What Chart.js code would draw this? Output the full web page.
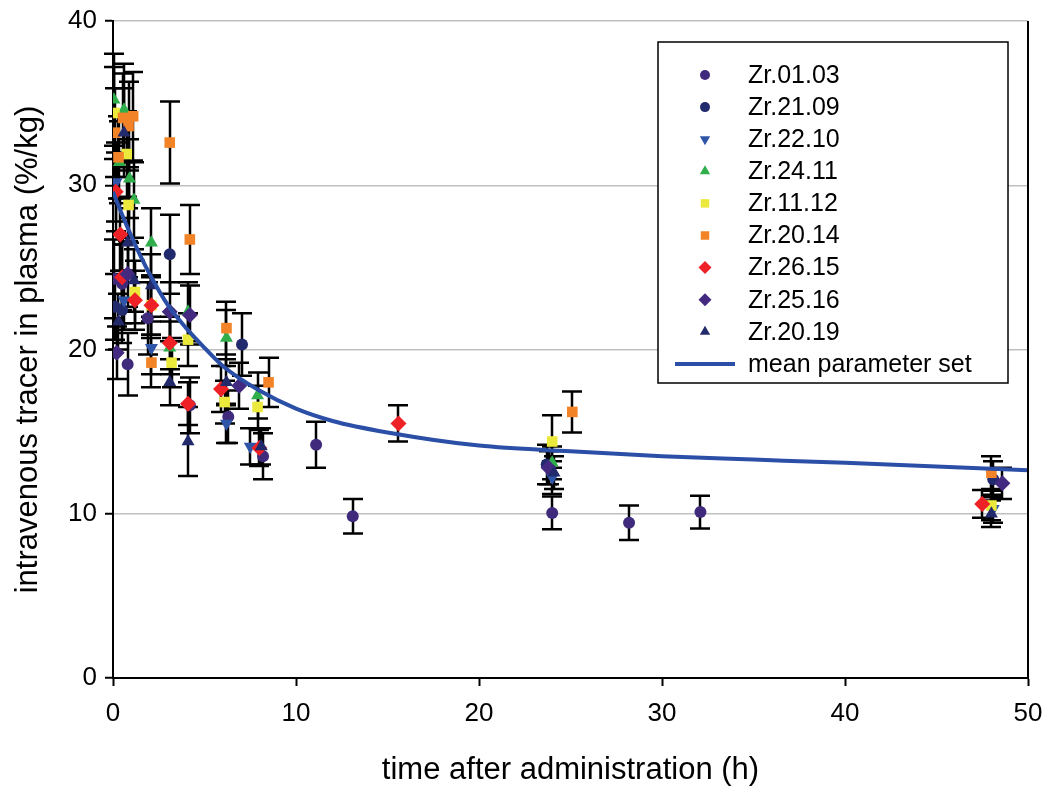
<!DOCTYPE html>
<html>
<head>
<meta charset="utf-8">
<script src="https://cdn.jsdelivr.net/npm/chart.js@4/dist/chart.umd.min.js"></script>
<style>
  html, body { margin: 0; padding: 0; background: #ffffff; }
  #wrap { position: relative; width: 1048px; height: 799px; }
</style>
</head>
<body>
<div id="wrap"><canvas id="c" width="1048" height="799"></canvas></div>
<script>
// ---- data ----
const seriesNames = ["Zr.01.03","Zr.21.09","Zr.22.10","Zr.24.11","Zr.11.12","Zr.20.14","Zr.26.15","Zr.25.16","Zr.20.19"];

const t_0103 = [0.08, 0.5, 0.8, 1.9, 4.2, 6.3, 8.2, 11.1, 13.1, 24.0, 28.2, 32.1];
const v_0103 = [24.3, 24.0, 19.1, 21.9, 16.6, 15.9, 13.5, 14.2, 9.85, 10.05, 9.45, 10.1];
const e_0103 = [2.4, 2.4, 1.9, 2.2, 1.7, 1.6, 1.4, 1.4, 1.05, 1.0, 1.05, 1.0];

const t_2109 = [0.1, 0.5, 3.1, 7.05, 23.7, 48.1];
const v_2109 = [22.6, 22.4, 25.8, 20.3, 13.0, 12.1];
const e_2109 = [2.0, 2.0, 2.4, 1.9, 1.2, 1.1];

const t_2210 = [0.17, 0.6, 2.1, 6.2, 7.5, 24.0, 48.1];
const v_2210 = [30.2, 23.0, 20.1, 15.5, 14.1, 12.2, 10.3];
const e_2210 = [2.4, 1.8, 1.6, 1.2, 1.1, 1.0, 0.85];

const t_2411 = [0.05, 0.35, 0.6, 0.9, 1.15, 2.1, 3.1, 4.1, 6.2, 7.9, 24.0];
const v_2411 = [35.2, 31.4, 34.6, 30.4, 29.1, 26.5, 20.1, 22.3, 20.7, 17.2, 13.1];
const e_2411 = [2.8, 2.5, 2.8, 2.4, 2.3, 2.1, 1.6, 1.8, 1.7, 1.4, 1.0];

const t_1112 = [0.08, 0.75, 0.85, 1.2, 2.1, 3.2, 4.1, 6.1, 7.9, 24.0, 48.0];
const v_1112 = [34.4, 31.9, 28.8, 23.5, 22.7, 19.2, 20.6, 16.8, 16.5, 14.4, 10.5];
const e_1112 = [2.8, 2.6, 2.3, 1.9, 1.8, 1.5, 1.6, 1.3, 1.3, 1.6, 0.9];

const t_2014 = [0.1, 0.3, 0.55, 0.85, 1.1, 2.1, 3.1, 4.2, 6.2, 8.5, 25.1, 48.0];
const v_2014 = [33.2, 31.7, 34.1, 33.6, 34.2, 19.2, 32.6, 26.7, 21.3, 18.0, 16.2, 12.5];
const e_2014 = [2.7, 2.5, 2.7, 2.7, 2.7, 1.5, 2.5, 2.1, 1.6, 1.5, 1.25, 1.0];

const t_2615 = [0.15, 0.4, 0.5, 1.2, 2.1, 3.1, 4.1, 5.9, 8.0, 15.6, 47.5];
const v_2615 = [29.6, 27.0, 24.4, 23.0, 22.7, 20.4, 16.7, 17.6, 14.0, 15.5, 10.6];
const e_2615 = [2.4, 2.2, 2.0, 1.8, 1.8, 1.6, 1.3, 1.4, 1.1, 1.1, 0.85];

const t_2516 = [0.2, 0.8, 3.1, 4.2, 6.9, 23.8, 48.6];
const v_2516 = [19.8, 24.6, 22.3, 22.1, 17.8, 12.8, 11.85];
const e_2516 = [1.6, 2.0, 1.8, 1.8, 1.4, 1.0, 0.95];

const t_2019 = [0.3, 0.6, 0.8, 1.15, 2.1, 3.1, 4.1, 6.2, 8.1, 24.1, 48.0];
const v_2019 = [21.7, 33.2, 26.5, 24.2, 23.9, 18.0, 14.4, 18.0, 14.1, 12.5, 10.0];
const e_2019 = [1.7, 2.7, 2.1, 1.9, 1.9, 1.4, 2.1, 1.4, 1.1, 1.0, 0.8];

// mean parameter set curve
const t_mean = [0, 0.5, 1, 1.5, 2, 3, 4, 5, 6, 8, 10, 12, 15, 20, 25, 30, 35, 40, 45, 50];
const v_mean = [29.6, 28.2, 26.9, 25.7, 24.6, 22.7, 21.3, 20.1, 19.0, 17.5, 16.4, 15.65, 14.95, 14.15, 13.8, 13.5, 13.3, 13.1, 12.88, 12.65];

const xTicks = [0, 10, 20, 30, 40, 50];
const yTicks = [0, 10, 20, 30, 40];

// ---- styles ----
const seriesT = [t_0103, t_2109, t_2210, t_2411, t_1112, t_2014, t_2615, t_2516, t_2019];
const seriesV = [v_0103, v_2109, v_2210, v_2411, v_1112, v_2014, v_2615, v_2516, v_2019];
const seriesE = [e_0103, e_2109, e_2210, e_2411, e_1112, e_2014, e_2615, e_2516, e_2019];
const colors  = ["#3f2a7c", "#222a6e", "#2f55a8", "#2fae4b", "#ece93d", "#f28327", "#ee2226", "#432a80", "#232a6c"];
const shapes  = ["circle", "circle", "triangle", "triangle", "rect", "rect", "rectRot", "rectRot", "triangle"];
const rots    = [0, 0, 180, 0, 0, 0, 0, 0, 0];
const radii   = [6, 6, 7.5, 7.5, 7.5, 7.5, 8, 8, 7.5];

const datasets = seriesNames.map((name, i) => ({
  label: name,
  data: seriesT[i].map((t, k) => ({ x: t, y: seriesV[i][k] })),
  errors: seriesE[i],
  showLine: false,
  pointStyle: shapes[i],
  rotation: rots[i],
  pointRadius: radii[i],
  pointHoverRadius: radii[i],
  backgroundColor: colors[i],
  borderColor: colors[i],
  borderWidth: 0,
  order: 8 - i
}));

datasets.push({
  label: "mean parameter set",
  data: t_mean.map((t, k) => ({ x: t, y: v_mean[k] })),
  showLine: true,
  cubicInterpolationMode: "monotone",
  borderColor: "#2b4ea6",
  backgroundColor: "#2b4ea6",
  borderWidth: 4,
  pointRadius: 0,
  pointHoverRadius: 0,
  order: -1
});

// error bars drawn from the library's own scales
const errorBars = {
  id: "errorBars",
  beforeDatasetsDraw(chart) {
    const ctx = chart.ctx;
    const ys = chart.scales.y;
    ctx.save();
    ctx.strokeStyle = "#000";
    ctx.lineWidth = 2.5;
    chart.data.datasets.forEach((ds, di) => {
      if (!ds.errors) return;
      const meta = chart.getDatasetMeta(di);
      meta.data.forEach((pt, k) => {
        const v = ds.data[k].y, e = ds.errors[k];
        const x = Math.round(pt.x);
        const y1 = ys.getPixelForValue(v + e);
        const y2 = ys.getPixelForValue(v - e);
        ctx.beginPath();
        ctx.moveTo(x, y1); ctx.lineTo(x, y2);
        ctx.moveTo(x - 10, y1); ctx.lineTo(x + 10, y1);
        ctx.moveTo(x - 10, y2); ctx.lineTo(x + 10, y2);
        ctx.stroke();
      });
    });
    ctx.restore();
  }
};

// right border of plot + legend box
const frameAndLegend = {
  id: "frameAndLegend",
  afterDraw(chart) {
    const ctx = chart.ctx;
    const a = chart.chartArea;
    ctx.save();
    ctx.strokeStyle = "#000";
    ctx.lineWidth = 2;
    ctx.beginPath();
    ctx.moveTo(a.right, a.top); ctx.lineTo(a.right, a.bottom);
    ctx.stroke();

    // legend
    const bx = 658, by = 42, bw = 350, bh = 341;
    ctx.fillStyle = "#fff";
    ctx.fillRect(bx, by, bw, bh);
    ctx.lineWidth = 1.5;
    ctx.strokeRect(bx, by, bw, bh);
    ctx.font = "25px 'Liberation Sans', Arial, sans-serif";
    ctx.textBaseline = "middle";
    ctx.textAlign = "left";
    const rowH = 32.1, y0 = 75, mx = 705, tx = 748;
    const lrad = [5, 5, 6, 6, 6, 6, 6.5, 6.5, 6];
    chart.data.datasets.forEach((ds, i) => {
      const y = y0 + i * rowH;
      if (ds.showLine) {
        ctx.strokeStyle = ds.borderColor;
        ctx.lineWidth = 4;
        ctx.beginPath(); ctx.moveTo(675, y); ctx.lineTo(735, y); ctx.stroke();
      } else {
        ctx.fillStyle = ds.backgroundColor;
        ctx.strokeStyle = ds.borderColor;
        Chart.helpers.drawPoint(ctx, { pointStyle: ds.pointStyle, rotation: ds.rotation, radius: lrad[i], borderWidth: 0 }, mx, y);
      }
      ctx.fillStyle = "#000";
      ctx.fillText(ds.label, tx, y + 1);
    });
    ctx.restore();
  }
};

const tickFont = { family: "'Liberation Sans', Arial, sans-serif", size: 26 };
const titleFont = { family: "'Liberation Sans', Arial, sans-serif", size: 31 };

new Chart(document.getElementById("c"), {
  type: "scatter",
  data: { datasets },
  options: {
    responsive: false,
    animation: false,
    layout: { padding: { left: 0, top: 21, right: 20, bottom: 0 } },
    plugins: { legend: { display: false }, tooltip: { enabled: false } },
    scales: {
      x: {
        type: "linear", min: 0, max: 50,
        afterBuildTicks(s) { s.ticks = xTicks.map(v => ({ value: v })); },
        afterFit(s) { s.height = 121; s.paddingLeft = 0; s.paddingRight = 0; },
        grid: { drawOnChartArea: false, drawTicks: true, tickLength: 8, tickColor: "#000", tickWidth: 2 },
        border: { display: true, color: "#000", width: 2 },
        ticks: { color: "#000", font: tickFont, padding: 12, maxRotation: 0 },
        title: { display: true, text: "time after administration (h)", color: "#000", font: titleFont, padding: { top: 0, bottom: 10 } }
      },
      y: {
        type: "linear", min: 0, max: 40,
        afterBuildTicks(s) { s.ticks = yTicks.map(v => ({ value: v })); },
        afterFit(s) { s.width = 113; s.paddingTop = 0; s.paddingBottom = 0; },
        grid: { color: "#c0c0c0", lineWidth: 1.5, drawTicks: true, tickLength: 8, tickColor: "#000", tickWidth: 2 },
        border: { display: true, color: "#000", width: 2 },
        ticks: { color: "#000", font: tickFont, padding: 8 },
        title: { display: true, text: "intravenous tracer in plasma (%/kg)", color: "#000", font: titleFont, padding: { top: 10, bottom: 0 } }
      }
    }
  },
  plugins: [errorBars, frameAndLegend]
});
</script>
</body>
</html>
